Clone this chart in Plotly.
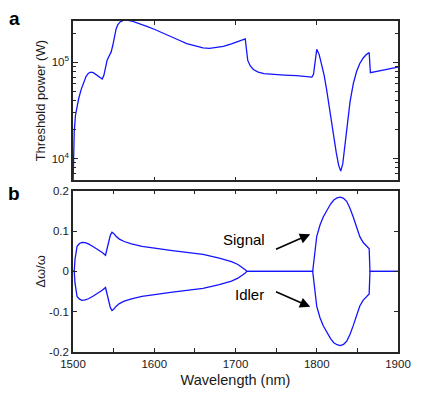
import plotly.graph_objects as go

# ---- Panel a: threshold power vs wavelength ----
wl_a = [1500.0, 1500.3, 1500.7, 1501.5, 1503, 1505, 1507, 1510, 1513, 1516, 1519, 1522,
        1525, 1529, 1533, 1536, 1538, 1540, 1542, 1544, 1547, 1549, 1551, 1553, 1555,
        1558, 1562, 1566, 1572, 1580, 1590, 1600, 1610, 1620, 1630, 1640, 1650, 1660,
        1668, 1675, 1685, 1695, 1705, 1712, 1715, 1718, 1722, 1728, 1735, 1745, 1760,
        1775, 1788, 1794, 1796, 1800, 1803, 1806, 1809, 1812, 1815, 1818, 1821, 1824,
        1827, 1829.5, 1832, 1835, 1838, 1841, 1845, 1849, 1853, 1857, 1861, 1864.5,
        1866, 1872, 1880, 1890, 1900]
power_a = [5.0e3, 8.0e3, 1.3e4, 1.9e4, 2.8e4, 3.5e4, 4.2e4, 5.2e4, 6.2e4, 7.1e4, 7.7e4, 7.9e4,
           7.8e4, 7.4e4, 6.9e4, 6.7e4, 7.3e4, 8.8e4, 1.05e5, 1.14e5, 1.28e5, 1.5e5, 1.85e5, 2.2e5, 2.45e5,
           2.62e5, 2.72e5, 2.74e5, 2.68e5, 2.55e5, 2.37e5, 2.2e5, 2.03e5, 1.86e5, 1.7e5, 1.56e5, 1.47e5, 1.41e5,
           1.39e5, 1.41e5, 1.46e5, 1.55e5, 1.66e5, 1.75e5, 1.05e5, 9.2e4, 8.4e4, 7.9e4, 7.6e4, 7.45e4, 7.35e4,
           7.25e4, 7.1e4, 7.0e4, 7.5e4, 1.36e5, 1.2e5, 9.6e4, 7.4e4, 5.3e4, 3.6e4, 2.4e4, 1.6e4, 1.15e4,
           8.5e3, 7.4e3, 8.8e3, 1.5e4, 2.5e4, 3.9e4, 6.0e4, 8.0e4, 9.7e4, 1.1e5, 1.2e5, 1.26e5,
           7.8e4, 8.0e4, 8.3e4, 8.6e4, 8.9e4]

# ---- Panel b: relative frequency shift (signal / idler) ----
wl_b = [1500, 1501.5, 1502.5, 1503.5, 1505, 1508, 1511, 1515, 1519, 1525, 1531, 1536, 1540,
        1542, 1544, 1546, 1548, 1550, 1553, 1557, 1563, 1572, 1585, 1600, 1620, 1640, 1660,
        1680, 1695, 1703, 1709, 1712, 1714, 1795, 1800, 1804, 1808, 1813, 1817, 1821, 1825,
        1829, 1833, 1837, 1841, 1845, 1849, 1853, 1857, 1861, 1864.5, 1865.5, 1900]
signal_b = [0, 0, 0.03, 0.048, 0.062, 0.069, 0.072, 0.071, 0.068, 0.061, 0.054, 0.047, 0.040,
            0.055, 0.075, 0.09, 0.097, 0.094, 0.087, 0.080, 0.074, 0.068, 0.062, 0.057, 0.052, 0.047, 0.042,
            0.033, 0.024, 0.017, 0.009, 0.004, 0, 0, 0.087, 0.115, 0.135, 0.153, 0.167, 0.177, 0.182,
            0.184, 0.181, 0.173, 0.156, 0.134, 0.11, 0.086, 0.072, 0.063, 0.056, 0, 0]
idler_b = [0, 0, -0.03, -0.048, -0.062, -0.069, -0.072, -0.071, -0.068, -0.061, -0.054, -0.047, -0.040,
           -0.055, -0.075, -0.09, -0.097, -0.094, -0.087, -0.080, -0.074, -0.068, -0.062, -0.057, -0.052, -0.047, -0.042,
           -0.033, -0.024, -0.017, -0.009, -0.004, 0, 0, -0.087, -0.115, -0.135, -0.153, -0.167, -0.177, -0.182,
           -0.184, -0.181, -0.173, -0.156, -0.134, -0.11, -0.086, -0.072, -0.063, -0.056, 0, 0]

x_ticks = [1500, 1600, 1700, 1800, 1900]
x_ticklabels = ["1500", "1600", "1700", "1800", "1900"]
x_minor = [1550, 1650, 1750, 1850]
y_ticks_b = [-0.2, -0.1, 0, 0.1, 0.2]
y_ticklabels_b = ["-0.2", "-0.1", "0", "0.1", "0.2"]
y_ticks_a = [1e4, 1e5]
y_ticklabels_a = ["10<sup>4</sup>", "10<sup>5</sup>"]
y_minor_a = [6e3, 7e3, 8e3, 9e3, 2e4, 3e4, 4e4, 5e4, 6e4, 7e4, 8e4, 9e4, 2e5]

LINE = "#1414ff"
AX = "#262626"
FONT = "Liberation Sans, Arial, sans-serif"

fig = go.Figure()
fig.add_trace(go.Scatter(x=wl_a, y=power_a, mode="lines", line=dict(color=LINE, width=1.3),
                         xaxis="x", yaxis="y", showlegend=False, name="Threshold power"))
fig.add_trace(go.Scatter(x=wl_b, y=signal_b, mode="lines", line=dict(color=LINE, width=1.3),
                         xaxis="x2", yaxis="y2", showlegend=False, name="Signal"))
fig.add_trace(go.Scatter(x=wl_b, y=idler_b, mode="lines", line=dict(color=LINE, width=1.3),
                         xaxis="x2", yaxis="y2", showlegend=False, name="Idler"))

axis_common = dict(showline=True, linecolor=AX, linewidth=1.5, mirror="ticks", ticks="inside",
                   tickcolor=AX, tickwidth=1.2, ticklen=4, showgrid=False, zeroline=False,
                   automargin=False,
                   tickfont=dict(family=FONT, size=11.5, color="#1a1a1a"))

fig.update_layout(
    width=436, height=397,
    margin=dict(l=65, r=46, t=13, b=53),
    paper_bgcolor="white", plot_bgcolor="white",
    font=dict(family=FONT, color="#1a1a1a"),
    xaxis=dict(axis_common, domain=[0, 1], anchor="y", range=[1500, 1900],
               tickmode="array", tickvals=[1600, 1700, 1800], showticklabels=False),
    yaxis=dict(axis_common, domain=[0.5187, 1], anchor="x", type="log", range=[3.774, 5.428],
               tickmode="array", tickvals=y_ticks_a, ticktext=y_ticklabels_a, ticklen=5,
               minor=dict(ticks="inside", ticklen=3, tickcolor=AX, tickwidth=1, tickvals=y_minor_a),
               title=dict(text="Threshold power (W)", font=dict(family=FONT, size=13), standoff=3)),
    xaxis2=dict(axis_common, domain=[0, 1], anchor="y2", range=[1500, 1900],
                tickmode="array", tickvals=x_ticks, ticktext=x_ticklabels,
                minor=dict(ticks="inside", ticklen=4, tickcolor=AX, tickwidth=1.2, tickvals=x_minor),
                title=dict(text="Wavelength (nm)", font=dict(family=FONT, size=14.5), standoff=6)),
    yaxis2=dict(axis_common, domain=[0, 0.4873], anchor="x2", range=[-0.2, 0.2],
                tickmode="array", tickvals=y_ticks_b, ticktext=y_ticklabels_b,
                title=dict(text="Δω/ω", font=dict(family=FONT, size=13), standoff=1)),
)

annotations = [
    dict(text="<b>a</b>", x=-0.1815, y=1.009, xref="paper", yref="paper", showarrow=False,
         font=dict(family=FONT, size=19, color="black"), xanchor="center", yanchor="middle"),
    dict(text="<b>b</b>", x=-0.1815, y=0.480, xref="paper", yref="paper", showarrow=False,
         font=dict(family=FONT, size=19, color="black"), xanchor="center", yanchor="middle"),
    dict(text="Signal", x=1710.5, y=0.079, xref="x2", yref="y2", showarrow=False,
         font=dict(family=FONT, size=15, color="black"), xanchor="center", yanchor="middle"),
    dict(text="Idler", x=1717, y=-0.057, xref="x2", yref="y2", showarrow=False,
         font=dict(family=FONT, size=15, color="black"), xanchor="center", yanchor="middle"),
    dict(text="", x=1792, y=0.092, ax=1748, ay=0.053, xref="x2", yref="y2", axref="x2", ayref="y2",
         showarrow=True, arrowhead=2, arrowsize=1.3, arrowwidth=1.6, arrowcolor="black"),
    dict(text="", x=1792, y=-0.088, ax=1748, ay=-0.049, xref="x2", yref="y2", axref="x2", ayref="y2",
         showarrow=True, arrowhead=2, arrowsize=1.3, arrowwidth=1.6, arrowcolor="black"),
]
fig.update_layout(annotations=annotations)

fig.write_html("out.html")
